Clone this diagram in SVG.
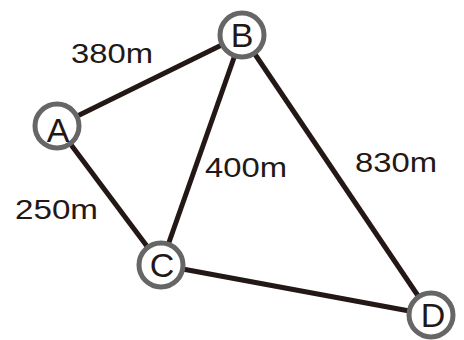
<svg xmlns="http://www.w3.org/2000/svg" width="464" height="340" viewBox="0 0 464 340">
<style>
.edge{stroke:#231815;stroke-width:5;fill:none}
.node circle{fill:#fff;stroke:#666;stroke-width:5}
.node text{font-family:"Liberation Sans",Arial,sans-serif;font-size:34px;fill:#231815;text-anchor:middle}
.lbl{font-family:"Liberation Sans",Arial,sans-serif;font-size:28px;fill:#231815}
</style>
<rect width="464" height="340" fill="#fff"/>
<g id="connectors">
<line class="edge" x1="57" y1="126" x2="242" y2="35"/>
<line class="edge" x1="57" y1="126" x2="161" y2="265"/>
<line class="edge" x1="161" y1="265" x2="242" y2="35"/>
<line class="edge" x1="242" y1="35" x2="431" y2="315"/>
<line class="edge" x1="161" y1="265" x2="431" y2="315"/>
</g>
<g id="labels">
<text class="lbl" x="71" y="63" textLength="82" lengthAdjust="spacingAndGlyphs">380m</text>
<text class="lbl" x="15" y="219" textLength="83" lengthAdjust="spacingAndGlyphs">250m</text>
<text class="lbl" x="205" y="177" textLength="82" lengthAdjust="spacingAndGlyphs">400m</text>
<text class="lbl" x="355" y="172" textLength="82" lengthAdjust="spacingAndGlyphs">830m</text>
</g>
<g id="A" class="node"><circle cx="57" cy="126" r="22"/><text x="58" y="142">A</text></g>
<g id="B" class="node"><circle cx="242" cy="35" r="22"/><text x="242" y="47">B</text></g>
<g id="C" class="node"><circle cx="161" cy="265" r="22"/><text x="162" y="277">C</text></g>
<g id="D" class="node"><circle cx="431" cy="315" r="22"/><text x="433" y="327">D</text></g>
</svg>
